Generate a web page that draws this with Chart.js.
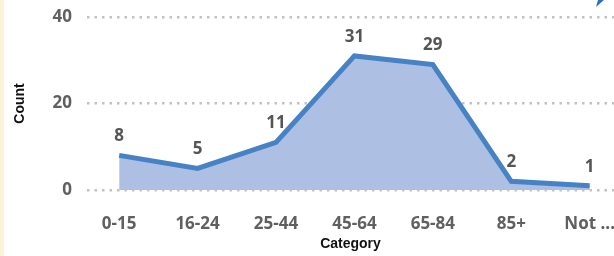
<!DOCTYPE html>
<html>
<head>
<meta charset="utf-8">
<script src="https://cdn.jsdelivr.net/npm/chart.js@4/dist/chart.umd.min.js"></script>
<style>
  html, body { margin: 0; padding: 0; background: #fff; }
  #wrap { position: relative; width: 614px; height: 256px; overflow: hidden; }
  #strip { position: absolute; left: 0; top: 0; width: 4px; height: 256px; background: #fbf4d6; }
  #corner { position: absolute; left: 596px; top: 0; width: 8px; height: 7px; background: #2f6fbf;
            clip-path: polygon(25% 0, 100% 0, 0 100%); }
  canvas { position: absolute; left: 0; top: 0; }
</style>
</head>
<body>
<div id="wrap">
  <div id="strip"></div>
  <canvas id="grafica" width="614" height="256"></canvas>
  <div id="corner"></div>
</div>
<script>
const categorias = ['0-15', '16-24', '25-44', '45-64', '65-84', '85+', 'Not ...'];
const conteos = [8, 5, 11, 31, 29, 2, 1];
const ticksY = [0, 20, 40];

const colorLinea = '#4782c5';
const colorArea = '#adc0e3';
const grisTexto = '#606060';

// etiquetas de valor encima de cada punto
const etiquetasValor = {
  id: 'etiquetasValor',
  afterDatasetsDraw(chart) {
    const ctx = chart.ctx;
    const meta = chart.getDatasetMeta(0);
    ctx.save();
    ctx.font = 'bold 17px "Open Sans", sans-serif';
    ctx.fillStyle = '#555';
    ctx.textAlign = 'center';
    ctx.textBaseline = 'middle';
    meta.data.forEach((p, i) => {
      ctx.fillText(String(conteos[i]), p.x, p.y - 19);
    });
    ctx.restore();
  }
};

const ctx = document.getElementById('grafica').getContext('2d');
const chart = new Chart(ctx, {
  type: 'line',
  data: {
    datasets: [{
      data: conteos.map((v, i) => ({ x: i, y: v })),
      borderColor: colorLinea,
      backgroundColor: colorArea,
      borderWidth: 5,
      fill: 'origin',
      tension: 0,
      pointRadius: 0,
      borderJoinStyle: 'miter'
    }]
  },
  options: {
    responsive: false,
    animation: false,
    layout: { padding: { top: 17, right: 0, left: 0, bottom: 0 } },
    plugins: { legend: { display: false }, tooltip: { enabled: false } },
    scales: {
      x: {
        type: 'linear',
        min: -0.41,
        max: 6.31,
        afterBuildTicks: axis => { axis.ticks = categorias.map((_, i) => ({ value: i })); },
        afterFit: axis => { axis.height = 66; axis.paddingLeft = 0; axis.paddingRight = 0; },
        grid: { display: false },
        border: { display: false },
        ticks: {
          autoSkip: false,
          maxRotation: 0,
          padding: 16,
          color: grisTexto,
          font: { family: '"Open Sans", sans-serif', size: 17, weight: 'bold' },
          callback: v => categorias[v]
        },
        title: {
          display: true,
          text: 'Category',
          color: '#111',
          padding: { top: 0, bottom: 3 },
          font: { family: '"Liberation Sans", Arial, sans-serif', size: 14, weight: 'bold' }
        }
      },
      y: {
        min: 0,
        max: 40,
        afterBuildTicks: axis => { axis.ticks = ticksY.map(v => ({ value: v })); },
        afterFit: axis => { axis.width = 87; axis.paddingTop = 0; axis.paddingBottom = 0; },
        border: { display: false, dash: [2.5, 5] },
        grid: { color: '#c2c2c2', lineWidth: 2.5, drawTicks: false },
        ticks: {
          padding: 15,
          color: grisTexto,
          font: { family: '"Open Sans", sans-serif', size: 17, weight: 'bold' }
        },
        title: {
          display: true,
          text: 'Count',
          color: '#111',
          padding: { top: 12, bottom: 0 },
          font: { family: '"Liberation Sans", Arial, sans-serif', size: 14, weight: 'bold' }
        }
      }
    }
  },
  plugins: [etiquetasValor]
});
</script>
</body>
</html>
